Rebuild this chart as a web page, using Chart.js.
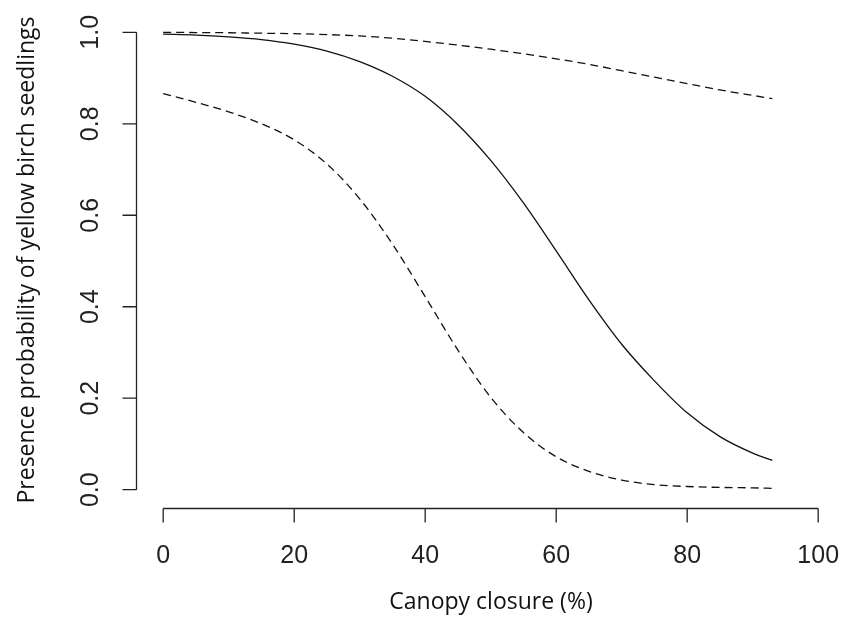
<!DOCTYPE html>
<html>
<head>
<meta charset="utf-8">
<script src="https://cdn.jsdelivr.net/npm/chart.js@4.4.1/dist/chart.umd.min.js"></script>
<style>
  html, body { margin: 0; padding: 0; background: #fff; }
  #wrap { width: 843px; height: 637px; }
</style>
</head>
<body>
<div id="wrap"><canvas id="myChart" width="843" height="637"></canvas></div>
<script>
// canopy closure (%)
const closure = [0, 5, 10, 15, 20, 25, 30, 35, 40, 45, 50, 55, 60, 65, 70, 75, 80, 85, 90, 93];
// fitted presence probability
const fitted = [0.996, 0.994, 0.990, 0.984, 0.974, 0.959, 0.936, 0.904, 0.860, 0.798, 0.720, 0.627, 0.522, 0.415, 0.318, 0.238, 0.168, 0.116, 0.080, 0.064];
// confidence band
const upper = [1.000, 0.9995, 0.999, 0.998, 0.997, 0.995, 0.992, 0.987, 0.980, 0.972, 0.963, 0.953, 0.942, 0.930, 0.916, 0.902, 0.888, 0.874, 0.862, 0.855];
const lower = [0.866, 0.847, 0.826, 0.800, 0.765, 0.712, 0.636, 0.537, 0.422, 0.305, 0.202, 0.125, 0.072, 0.040, 0.021, 0.011, 0.007, 0.005, 0.004, 0.003];

const xTicks = [0, 20, 40, 60, 80, 100];
const yTicks = [0, 0.2, 0.4, 0.6, 0.8, 1.0];
const xTitle = "Canopy closure (%)";
const yTitle = "Presence probability of yellow birch seedlings";

function pts(ys) {
  return closure.map((x, i) => ({ x: x, y: ys[i] }));
}

// R style axes, drawn off the chart scales
const rAxes = {
  id: "rAxes",
  afterDraw(chart) {
    const ctx = chart.ctx;
    const xs = chart.scales.x, ys = chart.scales.y;
    const area = chart.chartArea;
    ctx.save();
    ctx.strokeStyle = "#222";
    ctx.fillStyle = "#222";
    ctx.lineWidth = 1.3;

    // x axis
    let yb = Math.round(area.bottom) + 0.5;
    ctx.beginPath();
    ctx.moveTo(xs.getPixelForValue(xTicks[0]), yb);
    ctx.lineTo(xs.getPixelForValue(xTicks[xTicks.length - 1]), yb);
    xTicks.forEach(t => {
      let p = xs.getPixelForValue(t);
      ctx.moveTo(p, yb);
      ctx.lineTo(p, yb + 14);
    });
    ctx.stroke();
    ctx.font = "25px 'Liberation Sans', Arial, sans-serif";
    ctx.textAlign = "center";
    ctx.textBaseline = "middle";
    xTicks.forEach(t => ctx.fillText(String(t), xs.getPixelForValue(t), 556));

    // y axis
    let xl = Math.round(area.left) - 0.5;
    ctx.beginPath();
    ctx.moveTo(xl, ys.getPixelForValue(yTicks[0]));
    ctx.lineTo(xl, ys.getPixelForValue(yTicks[yTicks.length - 1]));
    yTicks.forEach(t => {
      let p = ys.getPixelForValue(t);
      ctx.moveTo(xl, p);
      ctx.lineTo(xl - 14, p);
    });
    ctx.stroke();
    yTicks.forEach(t => {
      ctx.save();
      ctx.translate(91, ys.getPixelForValue(t));
      ctx.rotate(-Math.PI / 2);
      ctx.fillText(t.toFixed(1), 0, 0);
      ctx.restore();
    });

    // titles
    ctx.fillStyle = "#111";
    ctx.font = "23px 'Open Sans', sans-serif";
    ctx.fillText(xTitle, 491, 602);
    ctx.save();
    ctx.translate(27, 260);
    ctx.rotate(-Math.PI / 2);
    ctx.fillText(yTitle, 0, 0);
    ctx.restore();
    ctx.restore();
  }
};

const ctx = document.getElementById("myChart").getContext("2d");
const myChart = new Chart(ctx, {
  type: "line",
  data: {
    datasets: [
      { label: "fitted", data: pts(fitted), borderColor: "#111", borderWidth: 1.3, borderDash: [] },
      { label: "upper", data: pts(upper), borderColor: "#111", borderWidth: 1.3, borderDash: [8, 5] },
      { label: "lower", data: pts(lower), borderColor: "#111", borderWidth: 1.3, borderDash: [8, 5] }
    ]
  },
  options: {
    responsive: false,
    animation: false,
    devicePixelRatio: 1,
    layout: { padding: { left: 137, top: 14, right: 0, bottom: 129 } },
    elements: { point: { radius: 0 }, line: { cubicInterpolationMode: "monotone", fill: false } },
    plugins: { legend: { display: false }, tooltip: { enabled: false } },
    scales: {
      x: { type: "linear", min: -4, max: 103.79, display: false },
      y: { type: "linear", min: -0.04, max: 1.04, display: false }
    }
  },
  plugins: [rAxes]
});
</script>
</body>
</html>
